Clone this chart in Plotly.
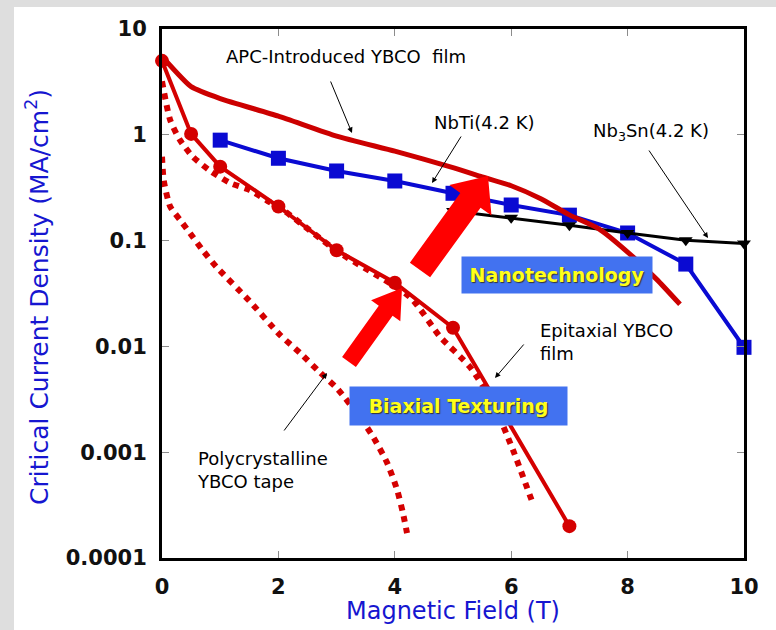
import math
import plotly.graph_objects as go

# ---------------- data ----------------
field_nbti = [1, 2, 3, 4, 5, 6, 7, 8, 9, 10]
jc_nbti = [0.89, 0.60, 0.455, 0.366, 0.28, 0.217, 0.174, 0.118, 0.060, 0.0098]

field_nb3sn = [5, 6, 7, 8, 9, 10]
jc_nb3sn = [0.19, 0.164, 0.140, 0.118, 0.101, 0.094]

field_apc = [0, 0.5, 1, 2, 3, 4, 5, 5.5, 6, 6.5, 7, 7.5, 8, 8.5, 8.9]
jc_apc = [5.5, 2.85, 2.2, 1.5, 0.97, 0.70, 0.49, 0.40, 0.33, 0.25, 0.175, 0.13, 0.078, 0.043, 0.025]

field_epi = [0, 0.5, 1, 2, 3, 4, 5, 7]
jc_epi = [5.0, 1.02, 0.50, 0.21, 0.081, 0.040, 0.015, 0.0002]

field_dot1 = [0, 0.14, 0.31, 0.53, 0.82, 1.17, 1.51, 1.8, 2.08, 3.0, 4.26, 4.78, 5.29, 5.69, 6.03, 6.37]
jc_dot1 = [3.2, 1.38, 0.89, 0.62, 0.46, 0.35, 0.30, 0.24, 0.195, 0.08, 0.0293, 0.0123, 0.0064, 0.0029, 0.00105, 0.00033]

field_dot2 = [0, 0.03, 0.14, 0.31, 0.48, 0.70, 0.94, 1.5, 2.03, 2.37, 2.71, 3.0, 3.4, 3.63, 3.87, 4.04, 4.14, 4.21]
jc_dot2 = [0.62, 0.37, 0.21, 0.157, 0.118, 0.081, 0.056, 0.027, 0.0128, 0.0087, 0.0057, 0.00405,
           0.00215, 0.00139, 0.00079, 0.00044, 0.000266, 0.000172]

x_ticks = [0, 2, 4, 6, 8, 10]
y_ticks = [1e-4, 1e-3, 1e-2, 1e-1, 1, 10]
y_ticktext = ["0.0001", "0.001", "0.01", "0.1", "1", "10"]

# ---------------- layout helpers (pixel -> paper) ----------------
W, H = 776, 630
L, R, T, B = 162, 744, 29, 558


def px(x):
    return (x - L) / (R - L)


def py(y):
    return 1 - (y - T) / (B - T)


RED = "#d40000"
DARK_RED = "#cc0000"
BLUE = "#0a0ad2"
TITLE_BLUE = "#1616d0"
FONT = "Comic Sans MS, DejaVu Sans, sans-serif"

fig = go.Figure()

fig.add_trace(go.Scatter(x=field_dot2, y=jc_dot2, mode="lines", cliponaxis=False,
                         line=dict(color=RED, width=6, dash="6px,6px", shape="spline", smoothing=0.6)))
fig.add_trace(go.Scatter(x=field_dot1, y=jc_dot1, mode="lines", cliponaxis=False,
                         line=dict(color=RED, width=6, dash="6px,6px", shape="spline", smoothing=0.6)))
fig.add_trace(go.Scatter(x=field_nbti, y=jc_nbti, mode="lines+markers", cliponaxis=False,
                         line=dict(color=BLUE, width=4),
                         marker=dict(symbol="square", size=15, color=BLUE)))
fig.add_trace(go.Scatter(x=field_nb3sn, y=jc_nb3sn, mode="lines+markers", cliponaxis=False,
                         line=dict(color="black", width=3),
                         marker=dict(symbol="triangle-down", size=12, color="black")))
fig.add_trace(go.Scatter(x=field_apc, y=jc_apc, mode="lines", cliponaxis=False,
                         line=dict(color=DARK_RED, width=5, shape="spline", smoothing=0.5)))
fig.add_trace(go.Scatter(x=field_epi, y=jc_epi, mode="lines+markers", cliponaxis=False,
                         line=dict(color=RED, width=4),
                         marker=dict(symbol="circle", size=14, color=RED)))

# ---------------- decorations ----------------
shapes = [
    dict(type="rect", xref="paper", yref="paper", x0=px(0), x1=px(14), y0=py(H), y1=py(0),
         fillcolor="#dedede", line=dict(width=0), layer="below"),
    dict(type="rect", xref="paper", yref="paper", x0=px(0), x1=px(W), y0=py(7), y1=py(0),
         fillcolor="#dedede", line=dict(width=0), layer="below"),
]


def block_arrow(tail, tip, w, hw, hl):
    dx, dy = tip[0] - tail[0], tip[1] - tail[1]
    n = math.hypot(dx, dy)
    ux, uy = dx / n, dy / n
    nx, ny = -uy, ux
    bx, by = tip[0] - ux * hl, tip[1] - uy * hl
    pts = [
        (tail[0] + nx * w, tail[1] + ny * w),
        (bx + nx * w, by + ny * w),
        (bx + nx * hw, by + ny * hw),
        tip,
        (bx - nx * hw, by - ny * hw),
        (bx - nx * w, by - ny * w),
        (tail[0] - nx * w, tail[1] - ny * w),
    ]
    path = "M " + " L ".join(f"{px(a):.5f},{py(b):.5f}" for a, b in pts) + " Z"
    return dict(type="path", xref="paper", yref="paper", path=path,
                fillcolor="#ff0000", line=dict(width=0), layer="above")


shapes.append(block_arrow((420, 270), (488, 176), 12.5, 26, 30))
shapes.append(block_arrow((349, 362), (402, 288), 8.5, 18, 28))

annotations = []


def label(text, x, y, xanchor="center", yanchor="middle", align="center", size=18):
    annotations.append(dict(text=text, x=px(x), y=py(y), xref="paper", yref="paper",
                            xanchor=xanchor, yanchor=yanchor, align=align, showarrow=False,
                            font=dict(family=FONT, size=size, color="black")))


def pointer(tail, tip):
    annotations.append(dict(text="", x=px(tip[0]), y=py(tip[1]), xref="paper", yref="paper",
                            ax=tail[0] - tip[0], ay=tail[1] - tip[1], showarrow=True,
                            arrowhead=2, arrowsize=1.1, arrowwidth=1, arrowcolor="black"))


label("APC-Introduced YBCO\u00a0 film", 346, 57)
label("NbTi(4.2 K)", 484, 122)
label("Nb<sub>3</sub>Sn(4.2 K)", 651, 132)
label("Epitaxial YBCO<br>film", 538, 342, xanchor="left", align="left")
label("Polycrystalline<br>YBCO tape", 195, 470, xanchor="left", align="left")

pointer((330, 80), (352, 133))
pointer((462, 135), (432, 183))
pointer((648, 149), (708, 238))
pointer((525, 343), (495, 378))
pointer((283, 432), (327, 373))

for txt, cx, cy, bw, bh in [("Nanotechnology", 557, 275, 190, 36),
                            ("Biaxial Texturing", 458.5, 406, 217, 38)]:
    annotations.append(dict(text=txt, x=px(cx), y=py(cy), xref="paper", yref="paper",
                            xanchor="center", yanchor="middle", showarrow=False,
                            width=bw, height=bh, borderpad=0, bgcolor="#4272f0",
                            font=dict(family=FONT, size=19, color="#ffff1a", weight="bold",
                                      shadow="1px 1px 1px #333333")))

# axis titles
annotations.append(dict(text="Magnetic Field (T)", x=px(453), y=py(611), xref="paper", yref="paper",
                        xanchor="center", yanchor="middle", showarrow=False,
                        font=dict(family=FONT, size=24, color=TITLE_BLUE)))
annotations.append(dict(text="Critical Current Density (MA/cm<sup>2</sup>)", x=px(37), y=py(297),
                        xref="paper", yref="paper", xanchor="center", yanchor="middle",
                        showarrow=False, textangle=-90,
                        font=dict(family=FONT, size=25, color=TITLE_BLUE)))

tickfont = dict(family="DejaVu Sans, Liberation Sans, sans-serif", size=21, color="#111111", weight="bold")

fig.update_layout(
    width=W, height=H,
    margin=dict(l=L, r=W - R, t=T, b=H - B),
    paper_bgcolor="white", plot_bgcolor="white",
    showlegend=False,
    shapes=shapes, annotations=annotations,
    xaxis=dict(range=[0, 10], tickvals=x_ticks, ticks="inside", ticklen=7, tickwidth=1,
               tickcolor="#8c8c8c", showline=True, linewidth=3, linecolor="black", mirror="ticks",
               showgrid=False, zeroline=False, tickfont=tickfont, ticklabelstandoff=8),
    yaxis=dict(type="log", range=[-4, 1], tickvals=y_ticks, ticktext=y_ticktext, ticks="inside",
               ticklen=7, tickwidth=1, tickcolor="#8c8c8c", showline=True, linewidth=3,
               linecolor="black", mirror="ticks", showgrid=False, zeroline=False,
               tickfont=tickfont, ticklabelstandoff=8),
)

fig.write_html("out.html", config={"displayModeBar": False},
               post_script="document.body.style.margin='0px';")
